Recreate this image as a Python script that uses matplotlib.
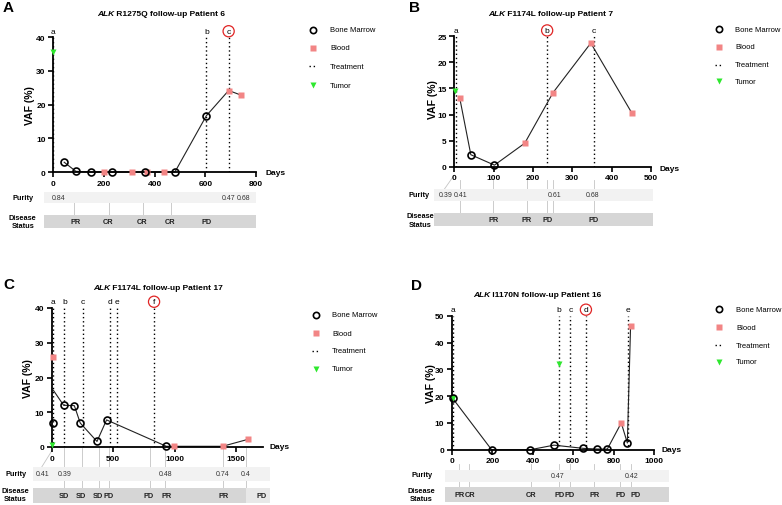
import matplotlib
matplotlib.use('Agg')
import matplotlib.pyplot as plt
import matplotlib.transforms as mtransforms
from matplotlib.lines import Line2D
from matplotlib.patches import Rectangle
import pandas as pd

plt.rcParams['font.family'] = ['Liberation Sans', 'DejaVu Sans']

W, H = 782, 506

# ---- A: ALK R1275Q, patient 6
a_bm_x = [43, 89, 147, 233, 362, 480, 604]
a_bm_y = [2.9, 0.2, 0.0, 0.0, 0.0, 0.0, 16.7]
a_blood_x = [199, 311, 368, 436, 692, 742]
a_blood_y = [0.0, 0.0, 0.0, 0.0, 24.2, 22.8]
a_tumor_x = [0]
a_tumor_y = [35.6]
a_treat_x = [0, 604, 692]
a_treat_lbl = ['a', 'b', 'c']
a_purity_x = [20, 693, 751]
a_purity_lbl = ['0.84', '0.47', '0.68']
a_status_x = [87, 217, 349, 461, 605]
a_status_lbl = ['PR', 'CR', 'CR', 'CR', 'PD']
a_sep_x = [81, 221, 353, 463]

# ---- B: ALK F1174L, patient 7
b_bm_x = [42, 102]
b_bm_y = [2.3, 0.3]
b_blood_x = [14, 179, 251, 347, 452]
b_blood_y = [13.1, 4.5, 14.2, 23.7, 10.2]
b_tumor_x = [2.5]
b_tumor_y = [14.6]
b_treat_x = [5, 236, 354]
b_treat_lbl = ['a', 'b', 'c']
b_purity_x = [-23, 16, 256, 351]
b_purity_lbl = ['0.39', '0.41', '0.61', '0.68']
b_status_x = [99, 184, 237, 354]
b_status_lbl = ['PR', 'PR', 'PD', 'PD']
b_sep_x = [14, 99, 184, 236, 251, 354]

# ---- C: ALK F1174L, patient 17
c_bm_x = [13, 97, 184, 232, 368, 446, 932]
c_bm_y = [6.8, 12.0, 11.9, 6.9, 1.6, 7.8, 0.2]
c_blood_x = [13, 997, 1389, 1595]
c_blood_y = [25.9, 0.2, 0.2, 2.2]
c_tumor_x = [0]
c_tumor_y = [0.7]
c_treat_x = [8, 103, 251, 470, 532, 832]
c_treat_lbl = ['a', 'b', 'c', 'd', 'e', 'f']
c_purity_x = [-78, 103, 924, 1389, 1578]
c_purity_lbl = ['0.41', '0.39', '0.48', '0.74', '0.4']
c_status_x = [97, 235, 376, 459, 789, 932, 1397, 1708]
c_status_lbl = ['SD', 'SD', 'SD', 'PD', 'PD', 'PR', 'PR', 'PD']
c_sep_x = [103, 243, 384, 465, 800, 924, 1395, 1581]

# ---- D: ALK I1170N, patient 16
d_bm_x = [3, 196, 388, 505, 650, 716, 769, 868]
d_bm_y = [19.2, 0.0, 0.0, 1.7, 0.5, 0.25, 0.25, 2.5]
d_blood_x = [838, 884]
d_blood_y = [10.0, 46.0]
d_tumor_x = [3, 528]
d_tumor_y = [19.2, 32.0]
d_treat_x = [7, 528, 586, 663, 871]
d_treat_lbl = ['a', 'b', 'c', 'd', 'e']
d_purity_x = [521, 889]
d_purity_lbl = ['0.47', '0.42']
d_status_x = [36, 89, 393, 531, 582, 705, 833, 911]
d_status_lbl = ['PR', 'CR', 'CR', 'PD', 'PD', 'PR', 'PD', 'PD']
d_sep_x = [36, 86, 393, 528, 586, 703, 833, 886]

PINK = '#f28585'
GREEN = '#2ee82e'
RED = '#e02424'


def fx(p):
    return p / W


def fy(p):
    return 1 - p / H


fig = plt.figure(figsize=(W / 100, H / 100), dpi=100)

panels = [
    dict(letter='A', mut='ALK', rest=' R1275Q follow-up Patient 6',
         bm=(a_bm_x, a_bm_y), blood=(a_blood_x, a_blood_y), tumor=(a_tumor_x, a_tumor_y),
         treat=(a_treat_x, a_treat_lbl), circled='c',
         purity=(a_purity_x, a_purity_lbl), status=(a_status_x, a_status_lbl), seps=a_sep_x,
         rect=(53.3, 38.3, 256, 173), xlim=(0, 800), xstep=200, ylim=(0, 40), ystep=10,
         letter_xy=(3, 8), title_xy=(96.7, 15), vaf_xy=(30, 105.3), days_xy=(265.7, 173.7),
         leg=(313, 330, [30.7, 49, 67.3, 86]), pband=(193, 204), sband=(216, 229),
         plbl=(23, 198.7), slbl=(22.7, 222.7), sep_top=193, band_x=(-35, 800),
         slant=None, light=None),
    dict(letter='B', mut='ALK', rest=' F1174L follow-up Patient 7',
         bm=(b_bm_x, b_bm_y), blood=(b_blood_x, b_blood_y), tumor=(b_tumor_x, b_tumor_y),
         treat=(b_treat_x, b_treat_lbl), circled='b',
         purity=(b_purity_x, b_purity_lbl), status=(b_status_x, b_status_lbl), seps=b_sep_x,
         rect=(454.3, 37.3, 651, 167.7), xlim=(0, 500), xstep=100, ylim=(0, 25), ystep=5,
         letter_xy=(409, 8), title_xy=(487.7, 14), vaf_xy=(432.7, 100), days_xy=(659.3, 169.3),
         leg=(719, 735, [30, 47.7, 65.7, 82.3]), pband=(190, 202), sband=(214, 227),
         plbl=(418.7, 196), slbl=(420, 221), sep_top=181, band_x=(-51, 506),
         slant=((0, 176), (-25, 190)), light=None),
    dict(letter='C', mut='ALK', rest=' F1174L follow-up Patient 17',
         bm=(c_bm_x, c_bm_y), blood=(c_blood_x, c_blood_y), tumor=(c_tumor_x, c_tumor_y),
         treat=(c_treat_x, c_treat_lbl), circled='f',
         purity=(c_purity_x, c_purity_lbl), status=(c_status_x, c_status_lbl), seps=c_sep_x,
         rect=(51.7, 309, 263.3, 448), xlim=(0, 1720), xstep=500, ylim=(0, 40), ystep=10,
         letter_xy=(3, 285), title_xy=(93.3, 288), vaf_xy=(28.3, 379), days_xy=(270, 448),
         leg=(316, 332, [315.7, 334.3, 352, 369.7]), pband=(468, 482), sband=(488.7, 503.7),
         plbl=(16, 475), slbl=(15, 495.7), sep_top=449, band_x=(-149, 1776),
         slant=((0, 452), (-81, 468)), light=(1581, 1776)),
    dict(letter='D', mut='ALK', rest=' I1170N follow-up Patient 16',
         bm=(d_bm_x, d_bm_y), blood=(d_blood_x, d_blood_y), tumor=(d_tumor_x, d_tumor_y),
         treat=(d_treat_x, d_treat_lbl), circled='d',
         purity=(d_purity_x, d_purity_lbl), status=(d_status_x, d_status_lbl), seps=d_sep_x,
         rect=(452, 316.7, 654, 450.7), xlim=(0, 1000), xstep=200, ylim=(0, 50), ystep=10,
         letter_xy=(411, 286), title_xy=(472.7, 295.3), vaf_xy=(431, 383.7), days_xy=(662, 450.3),
         leg=(719, 736, [310.3, 328.3, 346.3, 363]), pband=(470.7, 483), sband=(488.3, 503),
         plbl=(421.7, 475.7), slbl=(421, 495.3), sep_top=465, band_x=(-33, 1073),
         slant=None, light=None),
]

for p in panels:
    l, t, r, b = p['rect']
    ax = fig.add_axes([fx(l), fy(b), fx(r - l), (b - t) / H])
    ax.set_xlim(*p['xlim'])
    ax.set_ylim(*p['ylim'])
    ax.set_xticks(range(0, p['xlim'][1] + 1, p['xstep']))
    ax.set_yticks(range(0, p['ylim'][1] + 1, p['ystep']))
    for s in ['top', 'right']:
        ax.spines[s].set_visible(False)
    for s in ['left', 'bottom']:
        ax.spines[s].set_linewidth(1.3)
    ax.tick_params(direction='out', length=3.5, width=1.2, labelsize=6, pad=2)
    plt.setp(ax.get_xticklabels() + ax.get_yticklabels(), fontweight='bold')
    ax.patch.set_alpha(0)

    bm_x, bm_y = p['bm']
    bl_x, bl_y = p['blood']
    tu_x, tu_y = p['tumor']

    # line through mean of samples per day (bone marrow + blood)
    df = pd.DataFrame({'x': list(bm_x) + list(bl_x), 'y': list(bm_y) + list(bl_y)})
    trace = df.groupby('x', as_index=False)['y'].mean().sort_values('x')
    ax.plot(trace['x'], trace['y'], color='#222222', lw=0.8, zorder=2, clip_on=False)

    ax.plot(tu_x, tu_y, ls='none', marker='v', ms=4.5, color=GREEN, mec='none',
            zorder=3, clip_on=False)
    ax.plot(bl_x, bl_y, ls='none', marker='s', ms=4.5, color=PINK, mec='none',
            zorder=4, clip_on=False)
    ax.plot(bm_x, bm_y, ls='none', marker='o', ms=5, mfc='none', mec='black', mew=1.2,
            zorder=5, clip_on=False)

    # treatment lines
    tr_x, tr_l = p['treat']
    xt = ax.get_xaxis_transform()
    for x, lab in zip(tr_x, tr_l):
        ax.axvline(x, 0, 1, color='black', ls=(0, (1, 2)), lw=1.0, zorder=1)
        kw = {}
        if lab == p['circled']:
            kw['bbox'] = dict(boxstyle='circle,pad=0.25', fc='none', ec=RED, lw=0.9)
        ax.text(x, 1.045, lab, transform=xt, ha='center', va='center', fontsize=6, **kw)

    # purity / disease status bands
    bt = mtransforms.blended_transform_factory(ax.transData, fig.transFigure)
    x0, x1 = p['band_x']
    pt, pb = p['pband']
    st, sb = p['sband']
    ax.add_patch(Rectangle((x0, fy(pb)), x1 - x0, (pb - pt) / H, transform=bt,
                           fc='#f2f2f2', ec='none', clip_on=False, zorder=1))
    ax.add_patch(Rectangle((x0, fy(sb)), x1 - x0, (sb - st) / H, transform=bt,
                           fc='#d6d6d6', ec='none', clip_on=False, zorder=1))
    if p['light']:
        lx0, lx1 = p['light']
        ax.add_patch(Rectangle((lx0, fy(sb)), lx1 - lx0, (sb - st) / H, transform=bt,
                               fc='#e8e8e8', ec='none', clip_on=False, zorder=1.1))
    for x in p['seps']:
        ax.plot([x, x], [fy(p['sep_top']), fy(st)], transform=bt, color='#c4c4c4',
                lw=0.6, clip_on=False, zorder=0.5)
    if p['slant']:
        (sx0, sy0), (sx1, sy1) = p['slant']
        ax.plot([sx0, sx1], [fy(sy0), fy(sy1)], transform=bt, color='#c4c4c4',
                lw=0.6, clip_on=False, zorder=0.5)
    for x, lab in zip(*p['purity']):
        ax.text(x, fy((pt + pb) / 2), lab, transform=bt, ha='center', va='center',
                fontsize=5, color='#333333')
    for x, lab in zip(*p['status']):
        ax.text(x, fy((st + sb) / 2), lab, transform=bt, ha='center', va='center',
                fontsize=5.3, fontweight='bold', color='#222222')

    fig.text(fx(p['plbl'][0]), fy(p['plbl'][1]), 'Purity', ha='center', va='center',
             fontsize=5.3, fontweight='bold')
    fig.text(fx(p['slbl'][0]), fy(p['slbl'][1]), 'Disease\nStatus', ha='center',
             va='center', fontsize=5.3, fontweight='bold', linespacing=1.3)

    # labels and title
    fig.text(fx(p['letter_xy'][0]), fy(p['letter_xy'][1]), p['letter'], ha='left',
             va='center', fontsize=11, fontweight='bold')
    fig.text(fx(p['vaf_xy'][0]), fy(p['vaf_xy'][1]), 'VAF (%)', rotation=90, ha='center',
             va='center', fontsize=7.5, fontweight='bold')
    fig.text(fx(p['days_xy'][0]), fy(p['days_xy'][1]), 'Days', ha='left', va='center',
             fontsize=6, fontweight='bold')
    t1 = fig.text(fx(p['title_xy'][0]), fy(p['title_xy'][1]), p['mut'], ha='left',
                  va='center', fontsize=6, fontweight='bold', style='italic')
    ax.annotate(p['rest'], xy=(1, 0), xycoords=t1, ha='left', va='bottom',
                fontsize=6, fontweight='bold', annotation_clip=False)

    # legend
    mx, tx, ys = p['leg']
    styles = [
        ('Bone Marrow', dict(marker='o', ms=4.5, mfc='none', mec='black', mew=1.2, ls='none')),
        ('Blood', dict(marker='s', ms=4, color=PINK, mec='none', ls='none')),
        ('Treatment', None),
        ('Tumor', dict(marker='v', ms=4, color=GREEN, mec='none', ls='none')),
    ]
    for (name, st_kw), yy in zip(styles, ys):
        if st_kw is None:
            fig.add_artist(Line2D([fx(mx - 4), fx(mx + 4)], [fy(yy), fy(yy)],
                                  transform=fig.transFigure, color='black',
                                  ls=(0, (1, 2)), lw=1.0))
        else:
            fig.add_artist(Line2D([fx(mx)], [fy(yy)], transform=fig.transFigure, **st_kw))
        fig.text(fx(tx), fy(yy), name, ha='left', va='center', fontsize=5.5)

fig.savefig('out.png', dpi=100)
